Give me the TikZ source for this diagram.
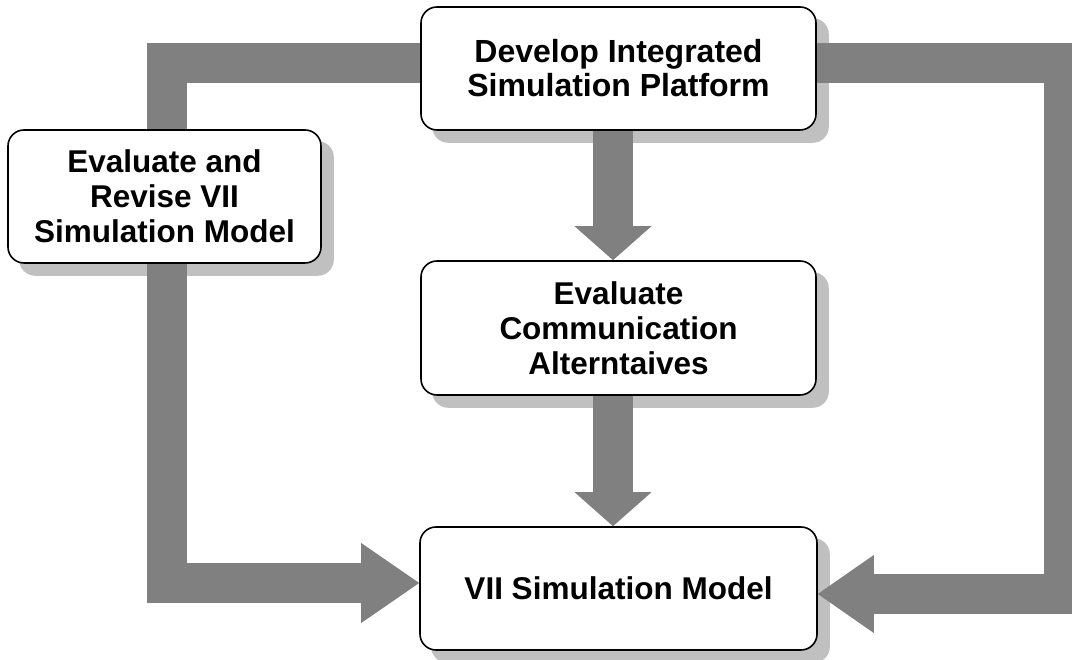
\documentclass[tikz,border=0pt]{standalone}
\usepackage{fontspec}
\setmainfont{Liberation Sans}
\usetikzlibrary{calc}
\definecolor{bargrey}{HTML}{808080}
\definecolor{shadegrey}{HTML}{C0C0C0}
\pgfdeclarelayer{shade}
\pgfdeclarelayer{bars}
\pgfsetlayers{shade,bars,main}

\begin{document}
\begin{tikzpicture}[x=1pt,y=1pt,
  stage/.style={draw=black, line width=1.6pt, fill=white, rounded corners=16pt,
    align=center, inner sep=0pt, font=\bfseries\fontsize{31.5}{35}\selectfont},
  shaft/.style={draw=bargrey, line width=40pt, line join=miter, line cap=butt},
  head/.style={fill=bargrey, draw=none},
  shade/.style={fill=shadegrey, rounded corners=16pt}]
\useasboundingbox (0,0) rectangle (1072,660);

% process steps
\node[stage, minimum width=395pt, minimum height=123pt,
      font=\bfseries\fontsize{32}{34}\selectfont] (plat) at (618.5,591.5)
  {Develop Integrated\\Simulation Platform};
\node[stage, minimum width=313pt, minimum height=133pt] (revise) at (164.5,463.5)
  {Evaluate and\\Revise VII\\Simulation Model};
\node[stage, minimum width=395pt, minimum height=134pt] (comm) at (618.5,332)
  {Evaluate\\Communication\\Alterntaives};
\node[stage, minimum width=397pt, minimum height=123pt] (model) at (618.5,71.5)
  {VII Simulation Model};

% drop shadows
\begin{pgfonlayer}{shade}
  \foreach \n in {plat,revise,comm,model}
    \fill[shade] ($(\n.south west)+(12,-12)$) rectangle ($(\n.north east)+(12,-12)$);
\end{pgfonlayer}

% block arrows
\begin{pgfonlayer}{bars}
  % left feedback loop
  \draw[shaft, shorten >=58pt] ($(plat.west)+(0,5)$) -| ($(model.west)+(-252,5.5)$)
    -- ($(model.west)+(0,5.5)$);
  \fill[head] ($(model.west)+(0,5.5)$) -- ++(-58,40) -- ++(0,-80) -- cycle;
  % right loop
  \draw[shaft, shorten >=56pt] ($(plat.east)+(0,5.5)$) -| ($(model.east)+(246,-5.5)$)
    -- ($(model.east)+(0,-5.5)$);
  \fill[head] ($(model.east)+(0,-5.5)$) -- ++(56,39) -- ++(0,-78) -- cycle;
  % platform -> communication
  \draw[shaft, shorten >=34pt] ($(plat.south)+(-5.5,0)$) -- ($(comm.north)+(-5.5,0)$);
  \fill[head] ($(comm.north)+(-5.5,0)$) -- ++(-38.5,34) -- ++(77,0) -- cycle;
  % communication -> model
  \draw[shaft, shorten >=34pt] ($(comm.south)+(-5.5,0)$) -- ($(model.north)+(-5.5,0)$);
  \fill[head] ($(model.north)+(-5.5,0)$) -- ++(-38.5,34) -- ++(77,0) -- cycle;
\end{pgfonlayer}
\end{tikzpicture}
\end{document}
